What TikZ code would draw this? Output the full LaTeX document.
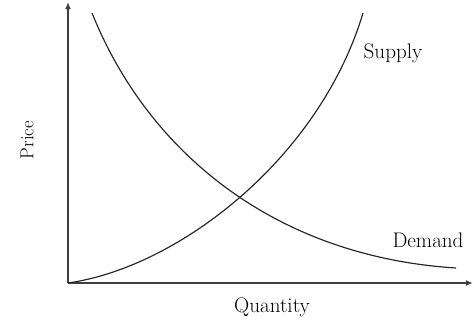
\documentclass[tikz,border=0pt]{standalone}
\usepackage{xcolor}
\usepackage{tikz}
\usetikzlibrary{arrows.meta}

\tikzset{
  eje/.style={line width=1.3pt, draw=black!75, -{Latex[length=6pt,width=5pt]}},
  curva/.style={line width=1pt, black!85},
  etiqueta/.style={font=\fontsize{18}{20}\selectfont}
}

\begin{document}
\begin{tikzpicture}[x=0.03cm, y=0.03cm]

% Marco de la figura
\useasboundingbox (0,0) rectangle (474,327);

% Ejes
\coordinate (O) at (68,44);
\coordinate (Ytop) at (68,325);
\coordinate (Xfin) at (473,44);
\draw[eje] (O) -- (Ytop);
\draw[eje] (O) -- (Xfin);

% Curva de oferta
\coordinate (S0) at (68,44);
\coordinate (S1) at (363,314);
\draw[curva] (S0) .. controls (180,60) and (320,170) .. (S1);

% Curva de demanda
\coordinate (D0) at (92,314);
\coordinate (D1) at (456,59);
\draw[curva] (D0) .. controls (150,170) and (280,70) .. (D1);

% Etiquetas
\node[etiqueta] (oferta) at (393,274) {Supply};
\node[etiqueta] (demanda) at (428,87) {Demand};
\node[etiqueta, font=\fontsize{16}{18}\selectfont, rotate=90] (precio) at (27,187) {Price};
\node[etiqueta] (cantidad) at (272,20) {Quantity};

\end{tikzpicture}
\end{document}
